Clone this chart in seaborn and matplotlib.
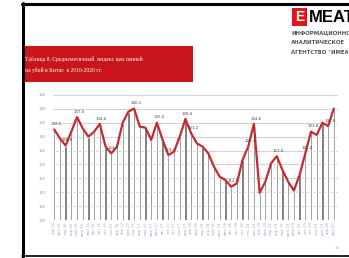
import numpy as np
import pandas as pd
import matplotlib
matplotlib.use("Agg")
import matplotlib.pyplot as plt
from matplotlib.patches import Rectangle
from matplotlib.lines import Line2D
import seaborn as sns

# monthly index values
values = [132.6, 129.4, 126.8, 131.8, 137.0, 133.0, 130.0, 131.8, 134.6, 126.4,
          124.0, 126.4, 135.0, 139.0, 140.1, 133.6, 133.2, 128.8, 135.0, 128.8,
          123.4, 124.6, 130.0, 136.4, 131.2, 127.6, 126.4, 124.0, 119.2, 115.6,
          114.4, 112.0, 113.2, 121.6, 126.4, 134.6, 109.8, 113.8, 120.4, 123.0,
          118.0, 113.8, 110.6, 116.2, 124.0, 131.8, 130.6, 135.0, 133.8, 140.1]
month_names = ['янв', 'фев', 'мар', 'апр', 'май', 'июн',
               'июл', 'авг', 'сен', 'окт', 'ноя', 'дек']
years = ['16', '17', '18', '19', '20']
labelled = [0, 2, 4, 8, 10, 14, 18, 20, 23, 24, 31, 34, 35, 39, 44, 45, 48]
y_ticks = [100, 105, 110, 115, 120, 125, 130, 135, 140, 145]

title_lines = ['Таблица 8. Среднемесячный  индекс цен свиней',
               'на убой в Китае  в 2016-2020 гг.']
agency_lines = ['ИНФОРМАЦИОННО-', 'АНАЛИТИЧЕСКОЕ', 'АГЕНТСТВО "ИМЕАТ"']

months = [f'{m}.{y}' for y in years for m in month_names][:len(values)]
df = pd.DataFrame({'month': months, 'value': values})
df['pos'] = np.arange(len(df))

sns.set_style('white')
plt.rcParams['font.family'] = ['DejaVu Sans']

fig = plt.figure(figsize=(3.49, 2.58), dpi=100)
fig.patch.set_facecolor('white')

# slide frame
fig.add_artist(Line2D([0.066, 0.066], [0, 0.99], color='black', lw=2.2))
fig.add_artist(Line2D([0.063, 1.0], [0.986, 0.986], color='black', lw=2.2))
fig.add_artist(Line2D([0.063, 1.0], [0.006, 0.006], color='black', lw=1.2))

# red title box
fig.add_artist(Rectangle((0.066, 0.682), 0.487, 0.14, transform=fig.transFigure,
                         color='#c8141a', lw=0))
fig.text(0.072, 0.772, title_lines[0], color='white', fontsize=4.1, va='center',
         family='Liberation Serif')
fig.text(0.072, 0.729, title_lines[1], color='white', fontsize=4.1, va='center',
         family='Liberation Serif')

# logo
fig.add_artist(Rectangle((0.837, 0.899), 0.043, 0.07, transform=fig.transFigure,
                         color='#e3141b', lw=0))
fig.text(0.8585, 0.934, 'E', color='white', fontsize=10, fontweight='bold',
         ha='center', va='center', family='Liberation Sans')
fig.text(0.884, 0.934, 'MEAT', color='black', fontsize=12, fontweight='bold',
         va='center', family='Liberation Sans')
for k, line in enumerate(agency_lines):
    fig.text(0.834, 0.872 - k * 0.037, line, color='#555555', fontsize=3.9,
             fontweight='bold', va='center')
fig.text(0.958, 0.035, '14', color='#aaaaaa', fontsize=2.5)

ax = fig.add_axes([0.152, 0.147, 0.816, 0.485])
sns.barplot(data=df, x='month', y='value', color='#666666', width=0.4,
            saturation=1, ax=ax, zorder=2)
sns.lineplot(x=df['pos'], y=df['value'], color='#c62a2f', lw=1.6, ax=ax, zorder=3)

for i in labelled:
    ax.text(df['pos'][i] + 0.3, df['value'][i] + 1.2,
            f"{df['value'][i]:.1f}".replace('.', ','),
            fontsize=2.8, color='#444444', ha='center', va='bottom', zorder=4)

ax.set_ylim(100, 145)
ax.set_xlim(-0.2, len(df) - 0.3)
ax.set_yticks(y_ticks)
ax.set_yticklabels([str(t) for t in y_ticks], fontsize=2.8, color='#999999')
ax.tick_params(axis='x', labelsize=2.7, labelcolor='#b0a0c0', rotation=90, length=0, pad=1)
ax.tick_params(axis='y', length=0, pad=5)
ax.grid(axis='y', color='#d4d4d4', lw=0.8, zorder=0)
ax.set_axisbelow(True)
ax.set_xlabel('')
ax.set_ylabel('')
for s in ax.spines.values():
    s.set_visible(False)

fig.savefig('out.png', dpi=100)
